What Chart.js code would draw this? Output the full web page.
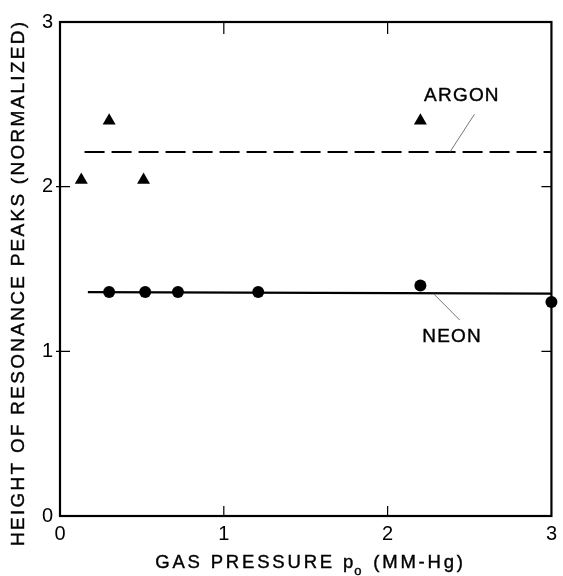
<!DOCTYPE html>
<html>
<head>
<meta charset="utf-8">
<script src="https://cdn.jsdelivr.net/npm/chart.js@4.4.1/dist/chart.umd.min.js"></script>
<style>
html,body{margin:0;padding:0;background:#fff;}
#wrap{width:563px;height:576px;position:relative;}
</style>
</head>
<body>
<div id="wrap"><canvas id="c" width="563" height="576"></canvas></div>
<script>
// ---- data ----
const argonX = [0.13, 0.30, 0.51, 2.20];
const argonY = [2.04, 2.40, 2.04, 2.40];
const neonX = [0.30, 0.52, 0.72, 1.21, 2.20, 3.00];
const neonY = [1.36, 1.36, 1.36, 1.36, 1.40, 1.30];
const argonFitX = [0.15, 3.00];
const argonFitY = [2.21, 2.21];
const neonFitX = [0.17, 3.00];
const neonFitY = [1.36, 1.35];
const xTicks = [0, 1, 2, 3];
const yTicks = [0, 1, 2, 3];
const xTitle = ["GAS PRESSURE p", "o", " (MM-Hg)"];
const yTitle = "HEIGHT OF RESONANCE PEAKS (NORMALIZED)";
const labels = [
  {text: "ARGON", x: 2.45, y: 2.55, lx1: 2.38, ly1: 2.21, lx2: 2.53, ly2: 2.44},
  {text: "NEON", x: 2.39, y: 1.09, lx1: 2.28, ly1: 1.35, lx2: 2.44, ly2: 1.19}
];

const FONT = "'Liberation Sans', Arial, sans-serif";
const toPts = (xs, ys) => xs.map((x, i) => ({x, y: ys[i]}));

function natural(ctx, str) {
  let w = 0;
  for (const ch of str) w += ctx.measureText(ch).width;
  return w;
}
function spacedText(ctx, str, x, y, spacing, align) {
  const n = [...str].length;
  const w = natural(ctx, str) + spacing * (n - 1);
  let cx = align === 'center' ? x - w / 2 : x;
  for (const ch of str) {
    ctx.fillText(ch, cx, y);
    ctx.strokeText(ch, cx, y);
    cx += ctx.measureText(ch).width + spacing;
  }
  return w;
}

const decor = {
  id: 'decor',
  afterDraw(chart) {
    const {ctx, chartArea: a, scales: {x, y}} = chart;
    ctx.save();
    ctx.strokeStyle = '#000';
    ctx.lineWidth = 2.2;
    ctx.strokeRect(a.left, a.top, a.right - a.left, a.bottom - a.top);
    ctx.lineWidth = 1.2;
    ctx.beginPath();
    [1, 2].forEach(v => {
      const px = x.getPixelForValue(v);
      ctx.moveTo(px, a.top); ctx.lineTo(px, a.top + 12);
      ctx.moveTo(px, a.bottom); ctx.lineTo(px, a.bottom - 10);
      const py = y.getPixelForValue(v);
      ctx.moveTo(a.left - 4, py); ctx.lineTo(a.left + 10, py);
      ctx.moveTo(a.right, py); ctx.lineTo(a.right - 10, py);
    });
    ctx.stroke();
    // annotations
    ctx.fillStyle = '#000';
    ctx.font = "19px " + FONT;
    ctx.textBaseline = 'middle';
    labels.forEach(l => {
      ctx.strokeStyle = '#000';
      ctx.lineWidth = 0.4;
      spacedText(ctx, l.text, x.getPixelForValue(l.x), y.getPixelForValue(l.y), 1.2, 'center');
      ctx.lineWidth = 0.8;
      ctx.strokeStyle = '#555';
      ctx.beginPath();
      ctx.moveTo(x.getPixelForValue(l.lx1), y.getPixelForValue(l.ly1));
      ctx.lineTo(x.getPixelForValue(l.lx2), y.getPixelForValue(l.ly2));
      ctx.stroke();
    });
    ctx.strokeStyle = '#000';
    ctx.lineWidth = 0.4;
    // x title with subscript, spaced to fill its width in the reference
    ctx.textBaseline = 'alphabetic';
    const big = "18.5px " + FONT, small = "13px " + FONT;
    const target = 305;
    ctx.font = big;
    const n0 = natural(ctx, xTitle[0]), n2 = natural(ctx, xTitle[2]);
    ctx.font = small;
    const n1 = natural(ctx, xTitle[1]);
    const chars = [...xTitle[0]].length + [...xTitle[2]].length - 2;
    const sp = (target - n0 - n1 - n2 - 2) / chars;
    let sx = (a.left + a.right) / 2 - target / 2 + 2;
    const by = 568;
    ctx.font = big;
    sx += spacedText(ctx, xTitle[0], sx, by, sp, 'left') + 1;
    ctx.font = small;
    sx += spacedText(ctx, xTitle[1], sx, by + 7, 0, 'left') + sp + 1;
    ctx.font = big;
    spacedText(ctx, xTitle[2], sx, by, sp, 'left');
    // y title
    ctx.save();
    ctx.font = "19px " + FONT;
    const yTarget = 524;
    const ysp = (yTarget - natural(ctx, yTitle)) / ([...yTitle].length - 1);
    ctx.translate(19, 22 + yTarget / 2);
    ctx.rotate(-Math.PI / 2);
    ctx.textBaseline = 'middle';
    spacedText(ctx, yTitle, 0, 0, ysp, 'center');
    ctx.restore();
    ctx.restore();
  }
};

new Chart(document.getElementById('c'), {
  type: 'scatter',
  data: {
    datasets: [
      {label: 'Argon fit', data: toPts(argonFitX, argonFitY), showLine: true, borderColor: '#000', borderWidth: 2, borderDash: [20, 7], pointRadius: 0, order: 2},
      {label: 'Neon fit', data: toPts(neonFitX, neonFitY), showLine: true, borderColor: '#000', borderWidth: 2.2, pointRadius: 0, order: 2},
      {label: 'Argon', data: toPts(argonX, argonY), pointStyle: 'triangle', pointRadius: 7.5, backgroundColor: '#000', borderColor: '#000', borderWidth: 0, order: 1},
      {label: 'Neon', data: toPts(neonX, neonY), pointStyle: 'circle', pointRadius: 6, backgroundColor: '#000', borderColor: '#000', borderWidth: 0, order: 1}
    ]
  },
  options: {
    responsive: false,
    animation: false,
    clip: false,
    layout: {padding: {top: 22, right: 9, left: 0, bottom: 0}},
    plugins: {legend: {display: false}, tooltip: {enabled: false}},
    scales: {
      x: {
        type: 'linear', min: 0, max: 3,
        afterBuildTicks: s => { s.ticks = xTicks.map(v => ({value: v})); },
        afterFit: s => { s.height = 60; },
        grid: {display: false, drawTicks: false},
        border: {display: false},
        ticks: {color: '#000', font: {family: FONT, size: 20}, padding: 6, maxRotation: 0}
      },
      y: {
        type: 'linear', min: 0, max: 3,
        afterBuildTicks: s => { s.ticks = yTicks.map(v => ({value: v})); },
        afterFit: s => { s.width = 60; },
        grid: {display: false, drawTicks: false},
        border: {display: false},
        ticks: {color: '#000', font: {family: FONT, size: 20}, padding: 7}
      }
    }
  },
  plugins: [decor]
});
</script>
</body>
</html>
